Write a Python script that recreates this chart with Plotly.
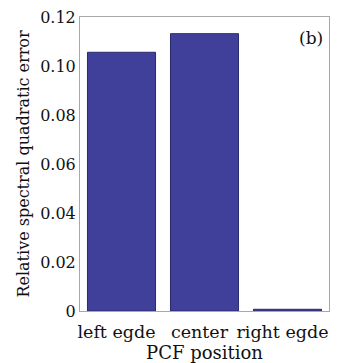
import plotly.graph_objects as go

positions = ["left egde", "center", "right egde"]
errors = [0.1056, 0.1132, 0.0007]
y_ticks = [0, 0.02, 0.04, 0.06, 0.08, 0.10, 0.12]
y_tick_text = ["0", "0.02", "0.04", "0.06", "0.08", "0.10", "0.12"]

font_family = "DejaVu Serif, Liberation Serif, serif"

fig = go.Figure(
    go.Bar(
        x=positions,
        y=errors,
        marker=dict(color="#40409a", line=dict(color="#2a2a6e", width=1)),
    )
)

fig.update_layout(
    width=338,
    height=363,
    margin=dict(l=80, r=8, t=13, b=49),
    paper_bgcolor="white",
    plot_bgcolor="white",
    bargap=0.18,
    showlegend=False,
    font=dict(family=font_family, size=16, color="#111"),
    annotations=[
        dict(
            text="(b)", x=0.985, y=0.93, xref="paper", yref="paper",
            xanchor="right", yanchor="middle", showarrow=False,
            font=dict(family=font_family, size=17, color="#111"),
        )
    ],
)

fig.update_xaxes(
    showline=True, linecolor="#a8a8a8", linewidth=1, mirror=True,
    ticks="", tickfont=dict(size=17.5), ticklabelshift=-5, ticklabelstandoff=5,
    title=dict(text="PCF position", standoff=0, font=dict(size=18)),
)
fig.update_yaxes(
    range=[0, 0.12], tickvals=y_ticks, ticktext=y_tick_text,
    showline=True, linecolor="#a8a8a8", linewidth=1, mirror=True,
    showgrid=False, zeroline=False, ticks="", tickfont=dict(size=16),
    title=dict(text="Relative spectral quadratic error", standoff=6, font=dict(size=16)),
)

fig.write_html("out.html")
